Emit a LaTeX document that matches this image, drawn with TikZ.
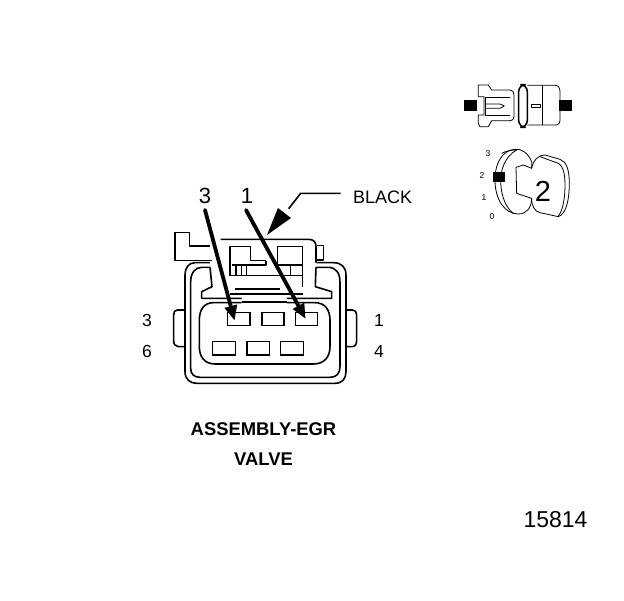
\documentclass[tikz,border=0pt]{standalone}
\usepackage{fontspec}
\setmainfont{Liberation Sans}
\usetikzlibrary{arrows.meta}
\tikzset{
  zoomA/.style={shift={(130,170)},x=0.3333pt,y=-0.3333pt},
  zoomB/.style={shift={(450,70)},x=0.3333pt,y=-0.3333pt},
  line/.style={draw=black,line width=1.6pt,line join=round},
  thin line/.style={draw=black,line width=0.8pt,line join=round},
  pin/.style={line width=1.6pt,draw=black},
  pointer/.style={draw=black,line width=3.8pt,line cap=round,-{Triangle[length=15pt,width=12pt]}},
  leader/.style={draw=black,line width=1.6pt},
  lbl/.style={inner sep=0pt,font=\fontsize{17.5}{17.5}\selectfont},
  biglbl/.style={inner sep=0pt,font=\fontsize{22}{22}\selectfont},
  keylbl/.style={inner sep=0pt,font=\fontsize{8.5}{9}\selectfont},
  titlelbl/.style={inner sep=0pt,font=\fontsize{18.4}{19}\selectfont\bfseries},
}
\begin{document}
\begin{tikzpicture}[x=1pt,y=-1pt]
\useasboundingbox (0,0) rectangle (624,600);
\fill[white] (0,0) rectangle (624,600);
% ---------- connector
\begin{scope}[zoomA]
 % outer body
 \draw[line] (240,278) -- (195,278) .. controls (175,278) and (165,295) .. (165,315) -- (165,605) .. controls (165,628) and (180,640) .. (200,640) -- (615,640) .. controls (638,640) and (648,625) .. (648,605) -- (648,315) .. controls (648,292) and (635,278) .. (610,278) -- (560,278);
 % inner wall
 \draw[line] (240,292) -- (215,292) .. controls (195,292) and (182,310) .. (182,335) -- (182,595) .. controls (182,612) and (192,622) .. (210,622) -- (600,622) .. controls (620,622) and (630,610) .. (630,590) -- (630,335) .. controls (630,310) and (618,292) .. (595,292) -- (558,292);
 % cavity
 \draw[line] (335,398) -- (250,398) .. controls (222,398) and (208,420) .. (208,450) -- (208,530) .. controls (208,562) and (225,582) .. (255,582) -- (550,582) .. controls (582,582) and (600,562) .. (600,530) -- (600,450) .. controls (600,420) and (585,398) .. (555,398) -- (470,398);
 \draw[line width=2.2pt] (335,396) -- (470,396);
 % side tabs
 \draw[line] (165,420) -- (142,420) .. controls (134,420) and (131,426) .. (131,435) -- (131,512) .. controls (131,522) and (136,530) .. (145,530) -- (165,530);
 \draw[line] (648,420) -- (668,420) .. controls (676,420) and (680,426) .. (680,435) -- (680,512) .. controls (680,522) and (676,530) .. (666,530) -- (648,530);
 % latch
 \draw[line] (245,272) -- (135,272) -- (135,187) -- (178,187) -- (178,228) -- (240,228);
 \draw[line] (272,208) -- (535,208) .. controls (550,208) and (558,215) .. (558,230) -- (558,278);
 \draw[line] (562,226) -- (580,226) -- (580,270) -- (560,270);
 % inner windows
 \draw[line] (300,318) -- (300,230) -- (362,230) -- (362,272) -- (408,272);
 \draw[line] (408,272) -- (408,285) -- (305,285);
 \draw[line] (442,285) -- (442,230) -- (518,230) -- (518,352);
 \draw[line] (442,285) -- (518,285);
 \draw[line] (300,316) -- (516,316);
 \draw[line] (318,285) -- (318,316) (334,285) -- (334,316) (350,285) -- (350,316);
 \draw[line] (482,285) -- (482,316);
 \draw[line width=2pt] (315,356) -- (450,356);
 % latch arms
 \draw[line] (240,292) -- (246,350) -- (215,365) -- (215,385) -- (335,385);
 \draw[line] (558,292) -- (556,350) -- (605,365) -- (605,385) -- (470,385);
 \draw[line] (300,372) -- (518,372);
 % contacts
 \foreach \a/\b/\c/\d in {292/428/360/467,396/428/462/467,496/428/562/467,248/515/316/555,351/515/418/555,452/515/520/555}
   \draw[pin] (\a,\b) rectangle (\c,\d);
 % pointer end points
 \coordinate (p3a) at (225,120);
 \coordinate (p3b) at (314,452);
 \coordinate (p1a) at (348,120);
 \coordinate (p1b) at (527,447);
 \coordinate (bl1) at (632,70);
 \coordinate (bl2) at (512,70);
 \coordinate (bl3) at (476,116);
 \coordinate (blt) at (411,195);
\end{scope}
\draw[pointer] (p3a) -- (p3b);
\draw[pointer] (p1a) -- (p1b);
\draw[leader] (bl1) -- (bl2) -- (bl3);
\fill[black] (blt) -- ++(11,-27) -- ++(13,10) -- cycle;
% ---------- labels
\node[biglbl] (n3) at (205,196) {3};
\node[biglbl] (n1) at (247,196) {1};
\node[lbl,anchor=west,font=\fontsize{18}{18}\selectfont] (nb) at (353,197) {BLACK};
\node[lbl] (l3) at (147,320) {3};
\node[lbl] (l6) at (147,351) {6};
\node[lbl] (r1) at (379,320) {1};
\node[lbl] (r4) at (379,351) {4};
\node[titlelbl] (t1) at (263.5,429) {ASSEMBLY-EGR};
\node[titlelbl] (t2) at (263.5,459) {VALVE};
\node[lbl,font=\fontsize{23}{23}\selectfont] (num) at (555.5,520) {15814};
% ---------- icons
\begin{scope}[zoomB]
 \fill[black] (42,90) rectangle (80,122);
 \fill[black] (327,90) rectangle (365,122);
 \draw[thin line] (85,45) -- (115,45) -- (125,60) -- (180,60) .. controls (188,60) and (192,66) .. (192,75) -- (192,140) .. controls (192,148) and (188,152) .. (180,152) -- (125,152) -- (115,170) -- (90,170) -- (85,160) -- (85,135) -- (102,135) -- (102,80) -- (85,80) -- cycle;
 \draw[thin line] (105,82) -- (105,135) (105,82) -- (180,82) (105,135) -- (180,135);
 \draw[thin line] (105,102) -- (150,102) -- (163,108) -- (150,115) -- (105,115);
 \draw[line width=1.5pt,rounded corners=7pt] (206,44) rectangle (232,172);
 \draw[thin line] (232,46) -- (315,46) .. controls (325,46) and (330,52) .. (330,65) -- (330,150) .. controls (330,160) and (325,165) .. (315,165) -- (232,165);
 \draw[thin line] (278,46) -- (278,165);
 \draw[thin line] (245,102) rectangle (272,112);
 % key
 \draw[thin line] (245,275) .. controls (235,250) and (215,235) .. (195,238) .. controls (160,240) and (135,275) .. (135,330) .. controls (135,390) and (165,432) .. (205,432) .. controls (228,432) and (245,415) .. (245,385) -- (200,370) -- (198,292) -- (220,285) -- (245,295) -- cycle;
 \draw[thin line] (155,250) .. controls (175,240) and (190,240) .. (200,240) .. controls (165,260) and (150,300) .. (152,340) .. controls (155,385) and (170,415) .. (190,430);
 \draw[thin line] (245,295) .. controls (250,270) and (265,255) .. (285,255) -- (330,268) .. controls (350,275) and (358,300) .. (358,340) .. controls (358,385) and (350,432) .. (325,440) -- (270,428) .. controls (255,425) and (245,410) .. (245,385);
 \draw[thin line] (270,260) -- (325,280) .. controls (342,290) and (345,320) .. (345,345) .. controls (345,380) and (340,420) .. (325,438);
 \fill[black] (130,305) rectangle (165,335);
\end{scope}
\node[inner sep=0pt,font=\fontsize{29}{29}\selectfont] (key) at (543,191) {2};
\node[keylbl] (k3) at (488,154) {3};
\node[keylbl] (k2) at (482,176) {2};
\node[keylbl] (k1) at (484,198) {1};
\node[keylbl] (k0) at (492,217) {0};
\end{tikzpicture}
\end{document}
